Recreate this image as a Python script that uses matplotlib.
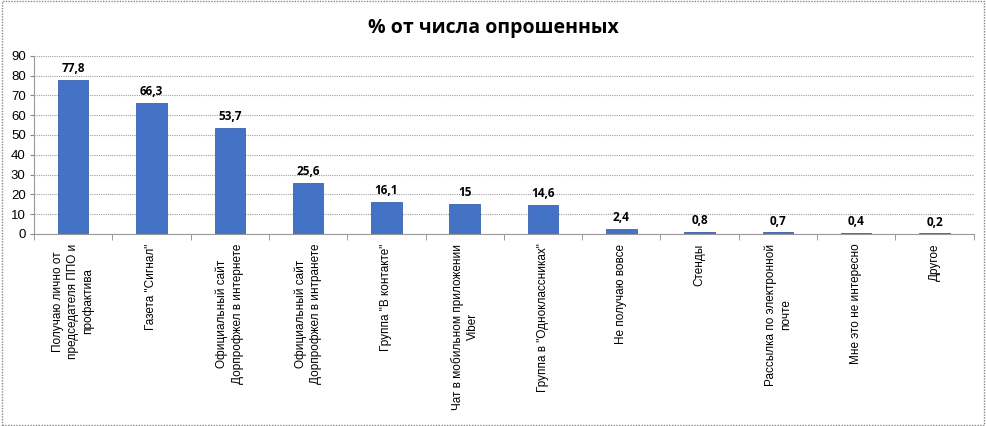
import matplotlib.pyplot as plt
import numpy as np
from matplotlib.patches import Rectangle

categories = [
    "Получаю лично от\nпредседателя ППО и\nпрофактива",
    'Газета "Сигнал"',
    "Официальный сайт\nДорпрофжел в интернете",
    "Официальный сайт\nДорпрофжел в интранете",
    'Группа "В контакте"',
    "Чат в мобильном приложении\nViber",
    'Группа в "Одноклассниках"',
    "Не получаю вовсе",
    "Стенды",
    "Рассылка по электронной\nпочте",
    "Мне это не интересно",
    "Другое",
]
values = [77.8, 66.3, 53.7, 25.6, 16.1, 15, 14.6, 2.4, 0.8, 0.7, 0.4, 0.2]
yticks = [0, 10, 20, 30, 40, 50, 60, 70, 80, 90]
title = "% от числа опрошенных"


def fmt(v):
    s = ("%g" % v)
    return s.replace(".", ",")


def main():
    plt.rcParams['font.family'] = ['Liberation Sans', 'DejaVu Sans']
    fig = plt.figure(figsize=(9.86, 4.26), dpi=100)
    ax = fig.add_axes([0.0345, 0.451, 0.953, 0.418])

    x = np.arange(len(values))
    ax.bar(x, values, width=0.39, color='#4472C4', edgecolor='#3a62b0',
           linewidth=0.6, zorder=3)
    for xi, v in zip(x, values):
        ax.text(xi, v + 2.5, fmt(v), ha='center', va='bottom',
                fontsize=8.5, fontweight='bold', family=['Open Sans', 'DejaVu Sans'])

    ax.set_xlim(-0.5, len(values) - 0.5)
    ax.set_ylim(0, 90)
    ax.set_yticks(yticks)
    ax.tick_params(axis='y', labelsize=9.5, length=3, color='#888888', pad=3)
    ax.set_xticks(x)
    ax.set_xticklabels(categories, rotation=90, fontsize=8.5,
                       ha='center', va='top', multialignment='center',
                       linespacing=1.35)
    ax.tick_params(axis='x', length=0, pad=7)
    ax.set_xticks(np.arange(len(values) + 1) - 0.5, minor=True)
    ax.tick_params(axis='x', which='minor', length=4, color='#888888')

    ax.grid(axis='y', color='#a0a0a0', linestyle=(0, (1, 1)), linewidth=0.8, zorder=0)
    for side in ['top', 'right']:
        ax.spines[side].set_visible(False)
    for side in ['left', 'bottom']:
        ax.spines[side].set_color('#999999')
        ax.spines[side].set_linestyle((0, (1, 1)))

    fig.text(0.5, 0.935, title, ha='center', va='center', fontsize=14,
             fontweight='bold', family=['Open Sans', 'DejaVu Sans'])

    fig.patches.append(Rectangle((0.002, 0.003), 0.996, 0.994, transform=fig.transFigure,
                                 fill=False, edgecolor='#888888',
                                 linestyle=(0, (1, 1)), linewidth=1))
    fig.savefig('out.png', dpi=100)


if __name__ == '__main__':
    main()
